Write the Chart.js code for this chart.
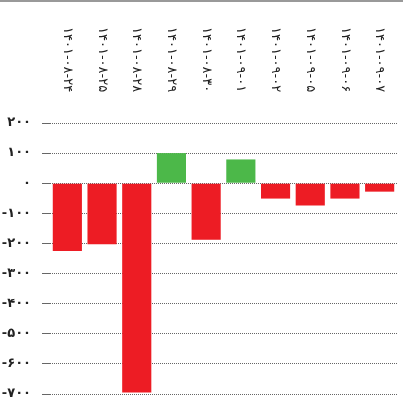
<!DOCTYPE html>
<html>
<head>
<meta charset="utf-8">
<script src="https://cdn.jsdelivr.net/npm/chart.js@4"></script>
<style>
  html, body { margin: 0; padding: 0; background: #fff; }
  body { border-top: 2px solid #999; width: 403px; height: 408px; overflow: hidden; }
  canvas { display: block; }
</style>
</head>
<body>
<canvas id="chart" width="403" height="408"></canvas>
<script>
const dates = ['۱۴۰۱-۰۸-۲۴', '۱۴۰۱-۰۸-۲۵', '۱۴۰۱-۰۸-۲۸', '۱۴۰۱-۰۸-۲۹', '۱۴۰۱-۰۸-۳۰',
    '۱۴۰۱-۰۹-۰۱', '۱۴۰۱-۰۹-۰۲', '۱۴۰۱-۰۹-۰۵', '۱۴۰۱-۰۹-۰۶', '۱۴۰۱-۰۹-۰۷'];
const values = [-225, -203, -695, 100, -188, 79, -51, -74, -51, -28];
const yTicks = [200, 100, 0, -100, -200, -300, -400, -500, -600, -700];

const faDigits = '۰۱۲۳۴۵۶۷۸۹';
function toFa(n) {
    return String(n).replace(/\d/g, d => faDigits[d]);
}

// labels on top, written downwards
const topLabels = {
    id: 'topLabels',
    afterDraw(chart) {
        const { ctx, scales: { x } } = chart;
        ctx.save();
        ctx.font = '13px "DejaVu Sans"';
        ctx.fillStyle = '#222';
        ctx.textAlign = 'left';
        ctx.textBaseline = 'middle';
        dates.forEach((d, i) => {
            ctx.save();
            ctx.translate(x.getPixelForValue(i), 25);
            ctx.rotate(Math.PI / 2);
            ctx.fillText(d, 0, 0);
            ctx.restore();
        });
        ctx.restore();
    }
};

new Chart(document.getElementById('chart'), {
    type: 'bar',
    data: {
        labels: dates,
        datasets: [{
            data: values,
            backgroundColor: values.map(v => v >= 0 ? '#4CB849' : '#ED1C24'),
            barPercentage: 0.84,
            categoryPercentage: 1
        }]
    },
    options: {
        responsive: false,
        animation: false,
        layout: { padding: { top: 121, right: 6, bottom: 16, left: 0 } },
        plugins: { legend: { display: false }, tooltip: { enabled: false } },
        scales: {
            x: { display: false },
            y: {
                min: -700,
                max: 200,
                afterBuildTicks: axis => { axis.ticks = yTicks.map(v => ({ value: v })); },
                afterFit: axis => {
                    axis.width = 50;
                    axis.paddingTop = 0;
                    axis.paddingBottom = 0;
                },
                grid: {
                    color: '#666',
                    tickLength: 8,
                    tickColor: '#666'
                },
                border: { display: false, dash: [1, 1] },
                ticks: {
                    padding: 11,
                    color: '#222',
                    font: { family: 'DejaVu Sans', size: 13, weight: 'bold' },
                    callback: v => toFa(v)
                }
            }
        }
    },
    plugins: [topLabels]
});
</script>
</body>
</html>
